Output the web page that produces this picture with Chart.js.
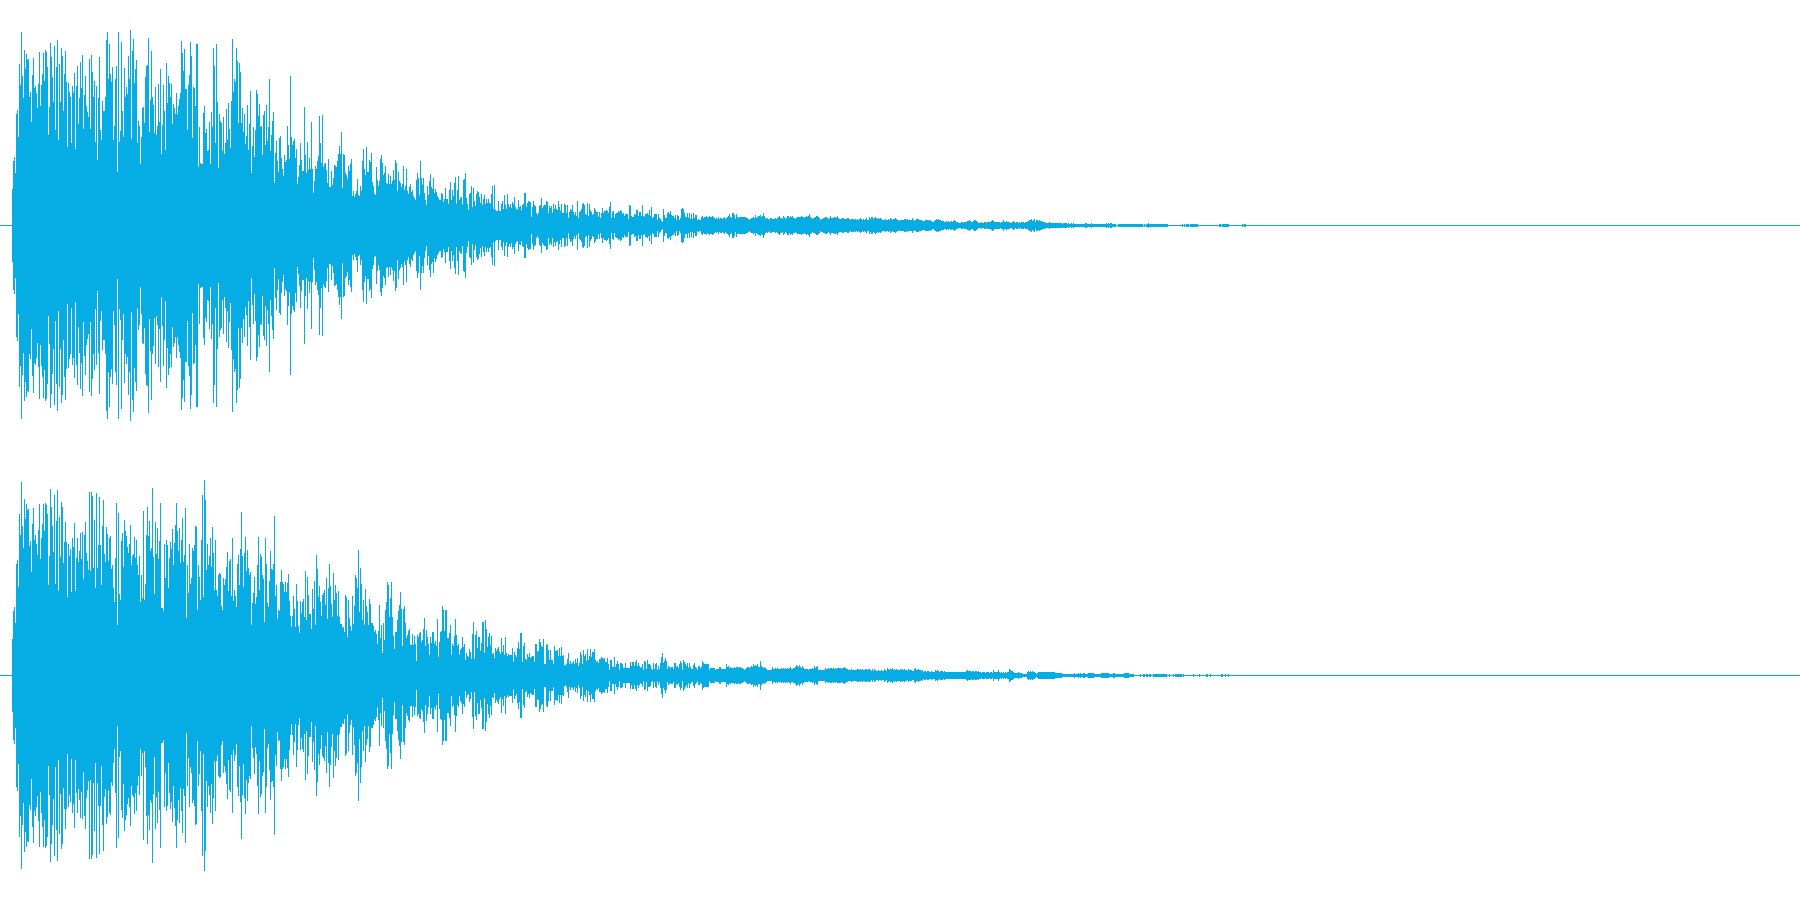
<!DOCTYPE html>
<html>
<head>
<meta charset="utf-8">
<style>
  html, body { margin: 0; padding: 0; background: #fff; }
  canvas { display: block; }
</style>
<script src="https://cdn.jsdelivr.net/npm/chart.js@4"></script>
</head>
<body>
<canvas id="left" width="1800" height="450"></canvas>
<canvas id="right" width="1800" height="450"></canvas>
<script>
// peak level per pixel column (0 = silence, only the centre line)
const leftPeaks = [
  0,0,0,0,0,0,0,0,0,0,0,0,
  36,64,68,52,111,115,88,161,140,193,149,127,175,156,171,165,166,128,133,103,150,167,137,139,132,117,141,173,119,140,151,172,144,175,173,158,90,118,182,168,148,123,179,95,158,185,85,161,123,177,169,114,151,174,143,78,142,133,128,82,139,132,152,76,139,159,101,127,163,137,170,96,130,149,119,113,108,166,96,170,153,128,144,83,139,65,127,168,95,85,124,114,114,128,185,193,146,181,151,143,158,85,99,146,159,53,193,83,94,183,114,88,157,128,138,131,169,146,195,86,174,186,142,156,165,82,104,99,61,88,117,118,102,148,159,160,187,93,125,174,128,120,92,138,90,99,141,103,156,71,100,140,114,75,162,122,149,142,128,141,101,121,117,111,132,111,119,126,132,184,172,154,176,136,136,95,140,150,183,169,87,138,137,119,181,181,58,98,62,61,61,112,119,92,96,74,75,103,61,113,98,177,159,82,181,123,57,111,104,102,74,108,71,82,116,85,122,96,77,124,186,133,146,143,177,164,102,162,153,102,117,93,111,81,89,120,75,101,134,52,79,98,68,95,135,131,109,121,98,99,70,110,114,80,120,84,98,146,74,90,104,113,42,72,84,64,53,87,89,67,56,49,70,63,65,99,80,66,149,88,80,84,86,67,76,41,48,60,82,
  65,54,54,118,70,52,83,55,67,56,103,56,32,44,59,56,64,69,109,82,62,110,58,61,62,55,42,66,38,38,54,40,47,60,59,58,64,71,79,71,93,37,71,70,52,50,46,59,54,61,66,29,34,28,31,34,46,30,29,39,34,64,76,56,50,78,53,53,65,63,72,43,39,31,30,58,45,39,44,66,70,62,50,52,59,42,41,51,41,49,41,44,55,45,65,62,34,53,44,42,
  38,41,59,35,39,56,34,31,38,41,33,35,29,27,25,45,52,47,30,64,47,40,47,32,25,20,39,30,44,51,38,36,47,32,36,33,29,27,25,25,32,31,23,26,37,26,26,21,35,43,25,35,29,42,48,21,35,49,25,27,28,20,45,46,52,27,21,15,31,32,39,18,37,24,19,31,34,33,28,22,31,20,26,30,21,26,22,26,22,21,31,39,16,40,15,14,14,24,14,14,
  21,24,16,30,20,16,31,21,18,21,17,23,21,28,18,16,15,25,18,19,15,20,21,32,32,18,22,24,23,23,8,18,24,20,19,12,10,12,19,20,27,17,19,20,20,24,23,12,19,17,19,12,21,16,20,16,15,24,18,14,21,12,12,21,20,12,20,7,13,16,15,20,13,10,13,9,24,7,13,14,16,21,22,20,11,10,22,9,21,15,13,10,11,17,15,13,13,8,13,7,
  12,17,12,14,14,15,14,12,18,23,7,13,14,7,11,12,12,14,13,15,14,11,12,9,11,11,11,6,20,19,9,8,8,11,10,15,15,9,13,13,9,20,9,8,11,11,12,10,15,9,18,7,8,11,11,11,5,11,7,6,4,3,16,10,7,7,12,13,11,14,10,9,9,7,10,5,10,9,5,7,16,17,16,12,8,8,12,7,12,6,11,6,12,7,10,10,5,6,5,5,
  8,9,7,8,8,9,7,8,9,8,8,9,8,7,6,7,6,8,6,7,7,6,7,8,6,7,8,9,11,8,7,12,12,10,6,11,8,7,8,8,8,8,8,8,8,7,7,6,5,6,7,7,8,7,10,7,8,9,9,10,8,9,12,9,7,6,7,6,5,7,7,6,6,6,7,6,7,8,9,7,7,6,9,8,6,7,9,9,7,9,8,9,7,7,6,7,8,8,8,8,
  9,8,8,7,8,9,8,9,11,8,7,6,7,7,8,9,9,8,7,5,6,6,7,7,8,8,7,6,7,9,7,7,7,8,8,7,9,7,6,6,6,7,7,6,6,6,7,7,6,5,6,6,6,5,6,5,6,5,6,7,6,5,6,5,6,7,5,5,8,6,8,8,6,7,8,7,6,7,6,7,6,5,5,5,6,5,5,6,5,7,6,5,6,6,7,6,5,5,4,5,
  5,5,5,6,6,5,6,5,5,5,5,7,5,4,5,6,6,6,5,5,5,4,4,4,5,5,5,5,4,5,4,3,3,4,5,6,5,6,5,5,4,4,4,3,3,4,3,4,3,3,4,3,4,5,4,3,3,2,2,2,3,3,2,3,3,3,4,4,5,4,3,3,4,5,5,4,3,2,2,2,3,2,2,3,3,2,3,3,3,3,4,5,4,3,3,3,3,3,3,2,
  3,3,5,3,3,4,3,3,3,2,2,3,4,3,2,3,3,2,3,2,3,3,3,2,3,3,3,4,5,5,6,4,5,6,3,5,5,4,5,4,4,3,3,3,2,2,2,2,3,2,2,2,2,2,2,2,2,2,2,2,2,1,2,2,2,2,1,2,1,1,2,1,2,1,1,
  1,1,1,1,1,1,1,1,1,2,2,1,1,1,1,2,1,1,1,1,1,1,1,1,1,1,1,1,1,1,2,1,2,1,2,2,1,1,1,1,0,0,
  1,1,1,1,1,1,1,1,1,1,1,1,1,1,1,1,1,1,1,1,1,1,1,1,1,0,1,0,1,1,2,1,1,1,1,1,1,1,1,1,1,1,1,1,1,1,1,1,1,1,
  0,0,0,0,0,0,0,0,0,0,0,0,0,0,1,0,1,0,1,1,1,0,1,1,1,1,1,1,1,1,
  0,0,0,0,0,0,0,0,0,0,0,0,0,0,0,0,0,0,0,0,0,1,1,0,1,1,1,1,1,1,1,0,0,0,0,0,0,0,0,0,0,0,0,0,1,0,1,1
];

const rightPeaks = [
  0,0,0,0,0,0,0,0,0,0,0,0,
  36,64,68,52,111,115,88,161,140,193,149,127,176,156,171,165,166,129,134,103,151,167,135,140,131,120,145,171,116,137,151,171,144,172,170,161,90,119,186,168,149,123,180,91,154,185,84,158,118,173,168,112,133,153,133,78,131,119,126,83,137,128,152,84,117,137,113,124,142,116,143,96,140,153,122,114,105,183,104,183,179,107,155,87,182,107,130,178,130,90,149,175,121,113,148,141,114,137,139,106,110,87,73,117,172,50,162,81,75,134,142,108,155,144,139,128,122,131,150,110,119,121,138,117,135,110,100,119,73,100,77,164,75,91,140,168,139,154,124,127,187,118,81,153,121,147,116,134,172,67,67,64,131,97,135,130,87,117,133,126,146,110,132,150,172,144,124,147,112,135,157,113,120,167,57,110,82,131,91,97,127,124,130,149,148,65,110,98,75,135,180,78,195,175,105,131,110,119,137,108,148,122,85,135,85,79,100,102,101,69,65,97,90,96,108,123,84,114,116,79,137,74,85,79,68,111,120,90,126,163,119,88,122,138,104,125,107,100,103,50,72,82,98,71,78,110,138,85,121,118,100,96,53,137,111,72,68,94,124,106,105,111,159,79,90,56,65,64,93,105,93,91,83,93,83,92,101,74,59,48,59,79,66,48,91,74,
  49,42,74,62,73,76,58,104,55,98,80,61,61,46,86,66,94,50,120,106,78,89,73,59,80,82,85,70,97,56,87,111,89,71,58,102,75,90,82,59,84,58,51,51,47,48,43,80,78,38,75,57,49,44,79,51,69,100,97,87,125,63,107,91,55,75,50,86,69,63,50,76,71,52,52,49,43,45,41,31,44,70,37,50,22,52,35,65,73,93,90,58,77,93,58,39,26,43,43,55,
  64,70,83,66,29,66,69,52,37,40,44,46,30,30,41,30,39,31,14,40,38,42,43,33,35,46,57,29,45,38,31,20,38,32,43,43,31,34,29,56,18,33,43,44,69,65,44,65,65,37,37,42,50,20,31,29,39,56,40,29,31,20,25,27,38,28,31,15,22,19,18,26,23,16,41,53,16,40,44,27,38,38,24,32,53,53,22,55,46,28,38,42,30,39,21,22,17,27,24,26,
  28,23,21,37,23,30,20,38,22,19,21,20,20,20,27,13,23,20,18,27,33,26,42,42,13,29,32,16,15,21,18,22,17,18,19,19,13,31,31,23,24,36,33,29,28,36,11,11,30,31,25,15,25,15,15,11,29,24,24,25,19,27,19,28,19,20,10,9,11,16,22,11,14,11,12,14,11,16,12,17,9,12,23,20,11,25,19,21,14,26,15,19,26,18,23,23,26,15,13,14,
  12,16,16,18,17,16,17,13,13,17,11,5,15,15,8,8,18,8,11,14,11,5,12,12,11,7,7,12,7,7,7,7,13,9,13,13,9,13,15,9,12,9,7,8,11,5,14,13,6,15,11,11,10,6,5,12,6,11,12,5,9,6,12,18,22,12,14,17,14,6,9,8,7,8,8,6,12,12,8,9,7,11,14,12,5,15,13,11,9,12,7,12,8,6,6,10,12,8,7,5,
  9,9,7,8,14,12,11,11,11,11,11,5,7,7,7,7,7,5,6,6,6,8,8,6,6,6,6,6,11,8,9,7,8,7,7,7,8,7,8,8,7,8,8,7,7,6,5,6,7,8,8,7,8,9,8,11,9,10,9,11,8,8,14,9,8,7,8,7,6,5,5,5,5,5,8,6,6,7,6,7,6,6,6,7,6,7,6,7,6,7,6,7,8,6,6,7,7,8,10,9,
  8,10,8,7,9,7,6,6,6,6,5,6,6,6,7,6,9,7,8,9,5,5,5,5,5,5,5,7,6,6,7,6,7,7,6,7,6,7,6,7,7,7,7,6,7,7,8,7,6,6,5,5,5,6,5,5,5,5,5,6,6,5,6,5,6,5,5,6,6,5,6,6,5,4,6,4,6,5,4,4,5,4,4,5,4,4,6,5,4,7,6,5,6,6,7,5,6,5,6,5,
  5,5,6,5,6,5,6,5,5,4,6,5,5,5,4,4,6,7,5,5,6,5,5,4,5,3,4,4,3,4,4,3,3,4,3,3,3,5,4,5,4,3,4,4,4,3,4,3,3,3,3,3,3,3,3,3,3,3,3,3,3,3,3,3,3,3,3,3,4,5,4,4,4,3,4,4,3,4,4,3,4,3,3,2,3,3,3,2,3,3,3,2,3,3,2,5,3,3,3,3,
  5,3,2,3,2,3,2,3,2,3,3,6,5,4,4,3,2,2,2,2,3,2,2,2,1,1,1,1,1,3,4,3,4,3,4,3,3,2,1,2,3,3,3,3,3,3,3,3,3,3,3,3,3,3,3,3,3,2,2,2,2,2,2,2,1,1,1,1,1,1,1,1,1,1,1,1,
  2,1,1,1,2,1,2,1,1,2,2,1,1,1,2,2,2,2,2,2,1,1,1,1,1,1,1,2,2,2,2,2,2,2,2,1,1,1,1,2,2,1,1,1,1,1,1,1,1,1,2,2,2,2,2,1,1,1,1,1,
  0,0,0,0,0,0,1,0,0,1,1,0,1,1,0,1,1,0,0,1,1,1,1,1,1,1,1,1,1,1,1,1,1,0,0,1,0,0,0,1,0,1,1,1,1,1,1,1,0,1,0,0,0,0,0,0,0,0,0,1,0,0,0,0,0,1,0,0,0,0,0,0,1,1,0,0,1,0,0,0,0,0,0,0,0,0,0,1,1,0,0,1,0,0,1
];

const columns = Array.from({ length: 1800 }, (_, i) => i);
const waveColor = '#06ade5';

function drawChannel(id, peaks) {
  // each column is a floating bar mirrored round the centre line, half a unit is the line itself
  const bars = columns.map(i => {
    const p = peaks[i] || 0;
    return [-p - 0.5, p + 0.5];
  });
  new Chart(document.getElementById(id), {
    type: 'bar',
    data: {
      labels: columns,
      datasets: [{
        data: bars,
        backgroundColor: waveColor,
        borderWidth: 0,
        borderSkipped: false,
        inflateAmount: 0,
        barPercentage: 1,
        categoryPercentage: 1
      }]
    },
    options: {
      responsive: false,
      animation: false,
      events: [],
      layout: { padding: 0 },
      plugins: { legend: { display: false }, tooltip: { enabled: false } },
      scales: {
        x: { display: false },
        y: { display: false, min: -224.5, max: 225.5 }
      }
    }
  });
}

drawChannel('left', leftPeaks);
drawChannel('right', rightPeaks);
</script>
</body>
</html>
